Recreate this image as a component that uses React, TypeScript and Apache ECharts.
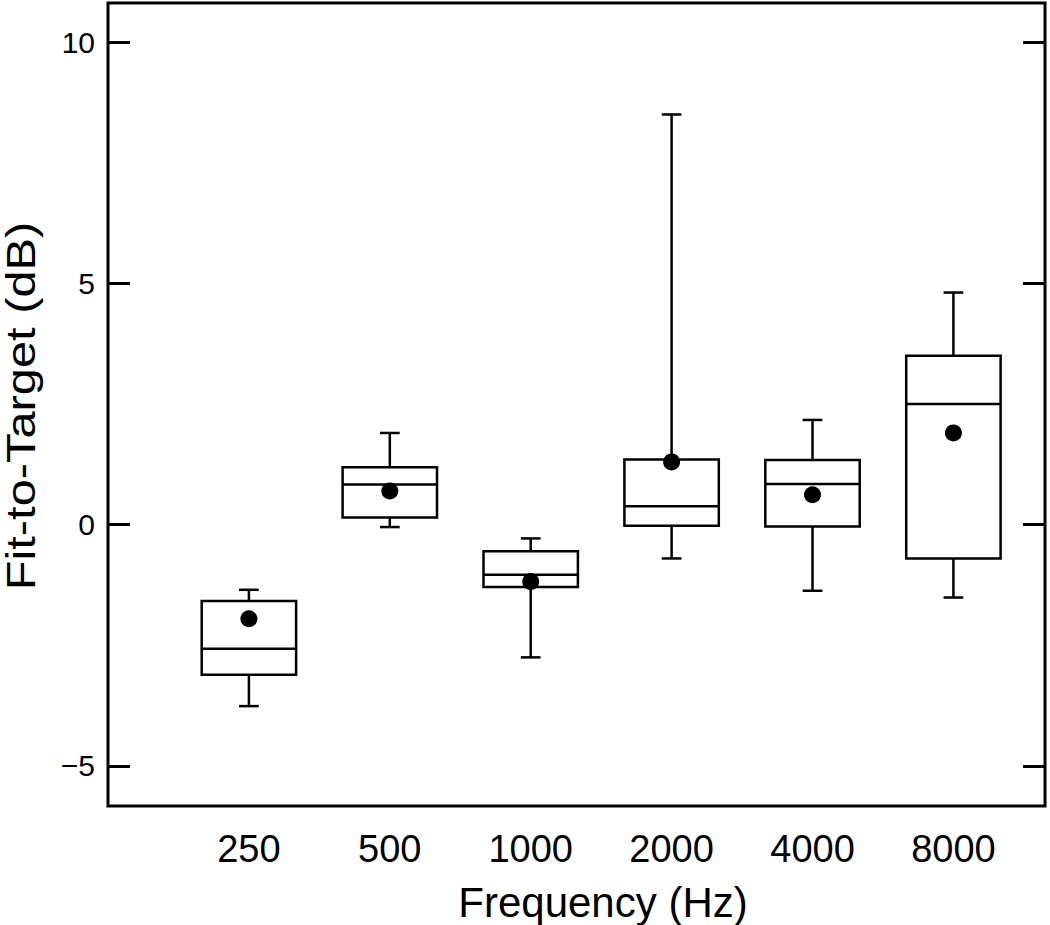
import React, { useEffect, useRef } from 'react';
import * as echarts from 'echarts';

const categories = ['250', '500', '1000', '2000', '4000', '8000'];
const positions = [1, 2, 3, 4, 5, 6];
const whiskerLow = [-3.76, -0.05, -2.75, -0.70, -1.37, -1.51];
const quartile1 = [-3.11, 0.15, -1.29, -0.02, -0.04, -0.70];
const medians = [-2.57, 0.83, -1.04, 0.38, 0.84, 2.50];
const quartile3 = [-1.58, 1.19, -0.55, 1.35, 1.34, 3.50];
const whiskerHigh = [-1.35, 1.90, -0.285, 8.50, 2.17, 4.81];
const means = [-1.95, 0.70, -1.18, 1.30, 0.62, 1.90];
const yTicks = [-5, 0, 5, 10];
const xTitle = 'Frequency (Hz)';
const yTitle = 'Fit-to-Target (dB)';

const FONT = '"Liberation Sans", Arial, sans-serif';

export default function App() {
  const ref = useRef<HTMLDivElement>(null);
  useEffect(() => {
    const chart = echarts.init(ref.current!, null, { renderer: 'svg' });
    const boxData = positions.map((p, i) => [p, whiskerLow[i], quartile1[i], medians[i], quartile3[i], whiskerHigh[i]]);
    const meanData = positions.map((p, i) => [p, means[i]]);
    const tickStyle = { show: true, inside: true, length: 22, lineStyle: { color: '#000', width: 3 }, customValues: yTicks };
    chart.setOption({
      animation: false,
      grid: {
        left: 108, right: 5, top: 3, bottom: 119,
        show: true, borderWidth: 3, borderColor: '#000', backgroundColor: 'transparent',
      },
      xAxis: {
        type: 'value', min: 0, max: 6.65, interval: 1,
        axisLine: { show: false }, axisTick: { show: false }, splitLine: { show: false },
        axisLabel: {
          formatter: (v: number) => {
            const i = positions.indexOf(v);
            return i >= 0 ? categories[i] : '';
          },
          fontSize: 38, fontFamily: FONT, color: '#000', margin: 24,
        },
      },
      yAxis: [
        {
          type: 'value', min: -5.83, max: 10.81,
          axisLine: { show: false }, splitLine: { show: false },
          axisTick: tickStyle,
          axisLabel: {
            customValues: yTicks,
            formatter: (v: number) => (v < 0 ? '\u2212' + Math.abs(v) : String(v)),
            fontSize: 30, fontFamily: FONT, color: '#000', margin: 13,
          },
        },
        {
          type: 'value', position: 'right', min: -5.83, max: 10.81,
          axisLine: { show: false }, splitLine: { show: false },
          axisTick: tickStyle,
          axisLabel: { show: false },
        },
      ],
      series: [
        {
          type: 'custom',
          xAxisIndex: 0, yAxisIndex: 0,
          data: boxData,
          z: 2,
          renderItem: (params: any, api: any) => {
            const x = api.value(0);
            const lo = api.coord([x, api.value(1)]);
            const b1 = api.coord([x, api.value(2)]);
            const md = api.coord([x, api.value(3)]);
            const b3 = api.coord([x, api.value(4)]);
            const hi = api.coord([x, api.value(5)]);
            const halfBox = api.size([0.67, 0])[0] / 2;
            const halfCap = api.size([0.14, 0])[0] / 2;
            const cx = lo[0];
            const st = { stroke: '#000', lineWidth: 2.5 };
            return {
              type: 'group',
              children: [
                { type: 'line', shape: { x1: cx, y1: hi[1], x2: cx, y2: b3[1] }, style: st },
                { type: 'line', shape: { x1: cx, y1: b1[1], x2: cx, y2: lo[1] }, style: st },
                { type: 'line', shape: { x1: cx - halfCap, y1: hi[1], x2: cx + halfCap, y2: hi[1] }, style: st },
                { type: 'line', shape: { x1: cx - halfCap, y1: lo[1], x2: cx + halfCap, y2: lo[1] }, style: st },
                {
                  type: 'rect',
                  shape: { x: cx - halfBox, y: b3[1], width: 2 * halfBox, height: b1[1] - b3[1] },
                  style: { fill: '#fff', stroke: '#000', lineWidth: 2.5 },
                },
                { type: 'line', shape: { x1: cx - halfBox, y1: md[1], x2: cx + halfBox, y2: md[1] }, style: st },
              ],
            };
          },
        },
        {
          type: 'scatter',
          xAxisIndex: 0, yAxisIndex: 0,
          data: meanData,
          symbol: 'circle', symbolSize: 17,
          itemStyle: { color: '#000', opacity: 1 },
          z: 3,
        },
      ],
      graphic: [
        {
          type: 'text', x: 603, y: 902,
          style: { text: xTitle, font: '42px ' + FONT, fill: '#000', textAlign: 'center', textVerticalAlign: 'middle' },
        },
        {
          type: 'text', x: 21, y: 406, rotation: Math.PI / 2, scaleX: 1.22,
          style: { text: yTitle, font: '40px ' + FONT, fill: '#000', textAlign: 'center', textVerticalAlign: 'middle' },
        },
      ],
    });
    return () => chart.dispose();
  }, []);
  return <div ref={ref} style={{ position: 'absolute', left: 0, top: 0, width: 1050, height: 925 }} />;
}
